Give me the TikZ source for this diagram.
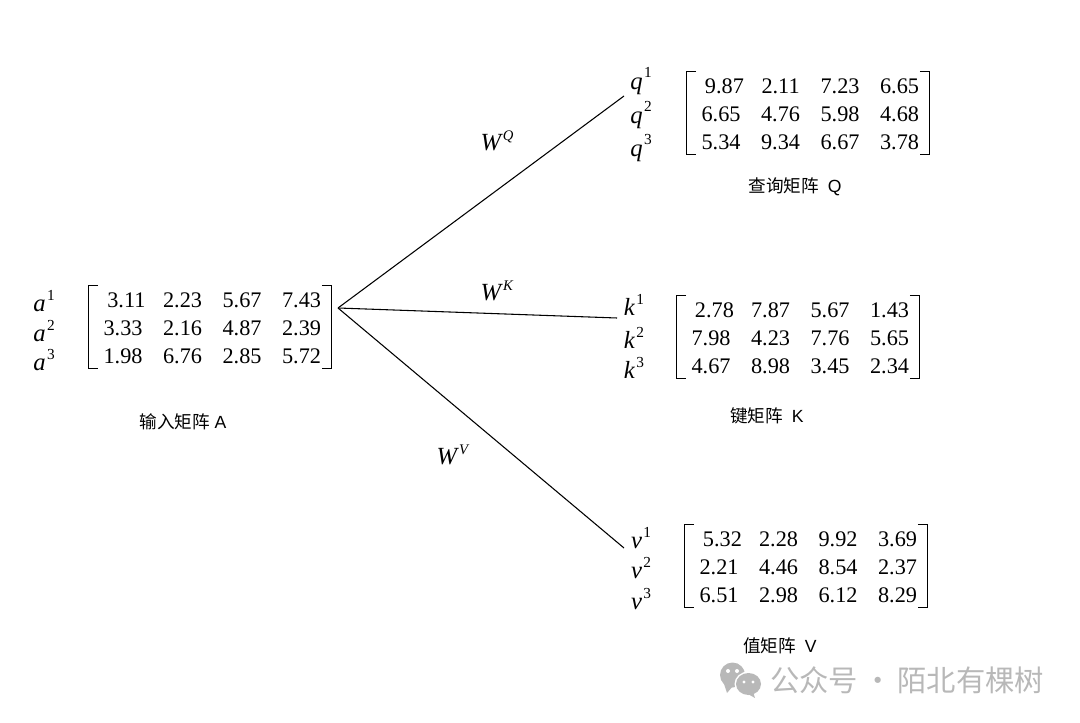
\documentclass[tikz,border=0pt]{standalone}
\usepackage{fontspec}
\setmainfont{Liberation Serif}
\setsansfont{Liberation Sans}
\newfontfamily\cjk{Noto Sans CJK SC}
\newcommand{\rowlab}[2]{\textit{#1}\kern1pt\raisebox{8.5pt}{\fontsize{11.5}{11.5}\selectfont #2}}
\newcommand{\wlab}[1]{\textit{W}\raisebox{7.5pt}{\fontsize{11}{11}\selectfont\textit{#1}}}
\newcommand{\matcells}[1]{\hspace*{3.5pt}\raisebox{-6.6pt}[0pt][0pt]{\begin{tabular}{@{}cccc@{}}#1\end{tabular}}}
\newcommand{\fstcell}[1]{\makebox[0pt]{\hspace*{5pt}#1}}
\setlength{\tabcolsep}{7.7pt}
\tikzset{
matbox/.style={inner sep=0pt, minimum width=181.5pt, minimum height=62pt, font=\fontsize{16.7}{21}\selectfont},
lab/.style={inner sep=0pt, font=\fontsize{18.5}{18.5}\selectfont},
capnode/.style={inner sep=0pt, font=\fontsize{13.2}{15}\selectfont},
brk/.style={black, line width=1.1pt},
wire/.style={black, line width=0.8pt}
}

\begin{document}
\begin{tikzpicture}[x=0.75pt,y=-0.75pt]
\useasboundingbox (0,0) rectangle (1080,723);

\node[matbox] (MA) at (210,327) {\matcells{\fstcell{3.11}&2.23&5.67&7.43\\3.33&2.16&4.87&2.39\\1.98&6.76&2.85&5.72}};
\node[matbox] (MQ) at (808,113) {\matcells{\fstcell{9.87}&2.11&7.23&6.65\\6.65&4.76&5.98&4.68\\5.34&9.34&6.67&3.78}};
\node[matbox] (MK) at (798,337) {\matcells{\fstcell{2.78}&7.87&5.67&1.43\\7.98&4.23&7.76&5.65\\4.67&8.98&3.45&2.34}};
\node[matbox] (MV) at (806,566) {\matcells{\fstcell{5.32}&2.28&9.92&3.69\\2.21&4.46&8.54&2.37\\6.51&2.98&6.12&8.29}};

\draw[brk] ([xshift=7pt]MA.north west) -- (MA.north west) -- (MA.south west) -- ([xshift=7pt]MA.south west);
\draw[brk] ([xshift=-7pt]MA.north east) -- (MA.north east) -- (MA.south east) -- ([xshift=-7pt]MA.south east);
\draw[brk] ([xshift=7pt]MQ.north west) -- (MQ.north west) -- (MQ.south west) -- ([xshift=7pt]MQ.south west);
\draw[brk] ([xshift=-7pt]MQ.north east) -- (MQ.north east) -- (MQ.south east) -- ([xshift=-7pt]MQ.south east);
\draw[brk] ([xshift=7pt]MK.north west) -- (MK.north west) -- (MK.south west) -- ([xshift=7pt]MK.south west);
\draw[brk] ([xshift=-7pt]MK.north east) -- (MK.north east) -- (MK.south east) -- ([xshift=-7pt]MK.south east);
\draw[brk] ([xshift=7pt]MV.north west) -- (MV.north west) -- (MV.south west) -- ([xshift=7pt]MV.south west);
\draw[brk] ([xshift=-7pt]MV.north east) -- (MV.north east) -- (MV.south east) -- ([xshift=-7pt]MV.south east);

\node[lab] (a1) at (44,301) {\rowlab{a}{1}};
\node[lab] (a2) at (44,331) {\rowlab{a}{2}};
\node[lab] (a3) at (44,360) {\rowlab{a}{3}};
\node[lab] (q1) at (641,81) {\rowlab{q}{1}};
\node[lab] (q2) at (641,115) {\rowlab{q}{2}};
\node[lab] (q3) at (641,148) {\rowlab{q}{3}};
\node[lab] (k1) at (634,305) {\rowlab{k}{1}};
\node[lab] (k2) at (634,338) {\rowlab{k}{2}};
\node[lab] (k3) at (634,368) {\rowlab{k}{3}};
\node[lab] (v1) at (641,538) {\rowlab{v}{1}};
\node[lab] (v2) at (641,568) {\rowlab{v}{2}};
\node[lab] (v3) at (641,599) {\rowlab{v}{3}};

\node[lab] (WQ) at (497,141) {\wlab{Q}};
\node[lab] (WK) at (497,291) {\wlab{K}};
\node[lab] (WV) at (453,455) {\wlab{V}};

\coordinate (O) at (338,308);
\coordinate (Qend) at (624,96);
\coordinate (Kend) at (617,318);
\coordinate (Vend) at (624,548);
\path[wire] (O) edge [] node[]{} (Qend);
\path[wire] (O) edge [] node[]{} (Kend);
\path[wire] (O) edge [] node[]{} (Vend);

\node[capnode] (CA) at (183,421.5) {{\cjk 输入矩阵} \textsf{A}};
\node[capnode] (CQ) at (795,186.5) {{\cjk 查询矩阵}\ \ \textsf{Q}};
\node[capnode] (CK) at (767,415.5) {{\cjk 键矩阵}\ \ \textsf{K}};
\node[capnode] (CV) at (780,645.5) {{\cjk 值矩阵}\ \ \textsf{V}};

\node[inner sep=0pt, anchor=west, text=black!28, font=\fontsize{22}{24}\selectfont\cjk] (mark) at (770,680) {公众号\,·\,陌北有棵树};

% icon beside the mark
\fill[black!28] (732.5,675) ellipse [x radius=12.5, y radius=12.5];
\fill[black!28] (724,684) -- (727,693) -- (733,686) -- cycle;
\fill[white] (748.5,684) ellipse [x radius=14, y radius=12.5];
\fill[black!28] (748.5,684) ellipse [x radius=12.5, y radius=11];
\fill[black!28] (753,692) -- (755,698) -- (746,693) -- cycle;
\fill[white] (728,671) circle (2);
\fill[white] (737,671) circle (2);
\fill[white] (744,682) circle (1.7);
\fill[white] (753,682) circle (1.7);
\end{tikzpicture}
\end{document}
